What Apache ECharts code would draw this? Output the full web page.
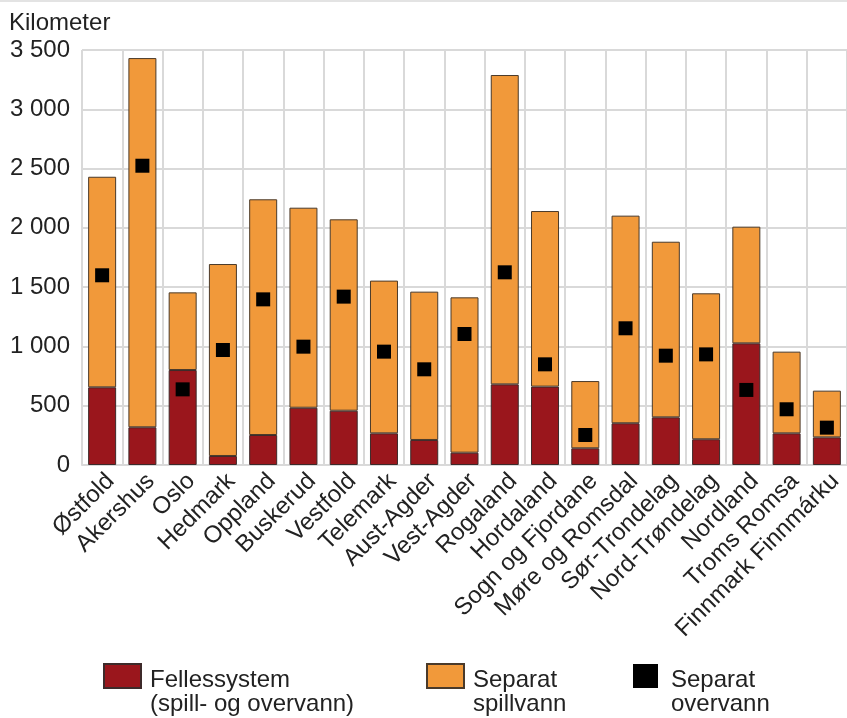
<!DOCTYPE html>
<html>
<head>
<meta charset="utf-8">
<script src="https://cdn.jsdelivr.net/npm/echarts@6/dist/echarts.min.js"></script>
<style>
html,body{margin:0;padding:0;background:#fff;}
#chart{width:847px;height:718px;}
</style>
</head>
<body>
<div id="chart"></div>
<script>
const categories = ['Østfold','Akershus','Oslo','Hedmark','Oppland','Buskerud','Vestfold','Telemark','Aust-Agder','Vest-Agder','Rogaland','Hordaland','Sogn og Fjordane','Møre og Romsdal','Sør-Trondelag','Nord-Trøndelag','Nordland','Troms Romsa','Finnmark Finnmárku'];
const fellessystem = [655,318,801,76,253,483,458,267,211,104,680,661,141,352,402,217,1026,267,233];
const separatSpillvann = [1776,3114,655,1619,1988,1687,1614,1288,1251,1310,2609,1481,567,1751,1481,1231,984,689,394];
const separatOvervann = [1600,2524,638,970,1397,998,1420,956,807,1105,1625,849,253,1153,922,933,633,470,315];
const yTickLabels = ['0','500','1 000','1 500','2 000','2 500','3 000','3 500'];
const seriesNames = ['Fellessystem\n(spill- og overvann)','Separat\nspillvann','Separat\novervann'];

const FONT = 'Liberation Sans, Arial, sans-serif';
const FS = 24;
const TXT = '#222';
const RED = '#9a161c';
const ORANGE = '#f1993a';

const chart = echarts.init(document.getElementById('chart'), null, {renderer:'canvas'});
function legendItem(name, left, w, padLeft){
  return {
    data:[{name:name, icon:'rect'}], left:left, top:636, padding:0, orient:'horizontal',
    itemWidth:w, itemHeight:24, selectedMode:false,
    formatter:function(n){
      const lines = n.split('\n');
      return '{sp| }\n' + lines.map(function(l){return '{t|' + l + '}';}).join('\n');
    },
    textStyle:{
      fontFamily:FONT, fontSize:FS, color:TXT,
      rich:{
        sp:{fontSize:2, lineHeight:32, height:32, padding:[0,0,0,padLeft]},
        t:{fontFamily:FONT, fontSize:FS, color:TXT, lineHeight:24, padding:[0,0,0,padLeft]}
      }
    }
  };
}
chart.setOption({
  animation:false,
  backgroundColor:'#fff',
  title:{text:'Kilometer', left:9, top:11, padding:0, textStyle:{fontFamily:FONT, fontSize:FS, fontWeight:'normal', color:TXT}},
  grid:{left:82, top:50, width:771, height:415, containLabel:false},
  legend:[
    legendItem(seriesNames[0], 103, 37, 4),
    legendItem(seriesNames[1], 426, 37, 4),
    legendItem(seriesNames[2], 633, 25, 8)
  ],
  xAxis:{
    type:'category', data:categories, boundaryGap:true,
    axisLine:{show:true, lineStyle:{color:'#d9d9d9', width:2}},
    axisTick:{show:false},
    splitLine:{show:true, lineStyle:{color:'#d9d9d9', width:2}},
    axisLabel:{interval:0, rotate:45, margin:4, verticalAlign:'top', fontFamily:FONT, fontSize:FS, color:TXT}
  },
  yAxis:{
    type:'value', min:0, max:3500, interval:500,
    axisLine:{show:false}, axisTick:{show:false},
    splitLine:{show:true, lineStyle:{color:'#d9d9d9', width:2}},
    axisLabel:{margin:12, fontFamily:FONT, fontSize:FS, color:TXT, formatter:function(v){return yTickLabels[Math.round(v/500)];}}
  },
  series:[
    {name:seriesNames[0], type:'bar', stack:'total', data:fellessystem, barWidth:28,
     itemStyle:{color:RED, borderColor:'#3d2a2a', borderWidth:1}},
    {name:seriesNames[1], type:'bar', stack:'total', data:separatSpillvann, barWidth:28,
     itemStyle:{color:ORANGE, borderColor:'#4a3a2a', borderWidth:1}},
    {name:seriesNames[2], type:'scatter', data:separatOvervann, symbol:'rect', symbolSize:14,
     itemStyle:{color:'#000', opacity:1}, z:5}
  ],
  graphic:[{type:'line', shape:{x1:0,y1:1,x2:847,y2:1}, style:{stroke:'#e3e3e3', lineWidth:2}, silent:true}]
});
</script>
</body>
</html>
